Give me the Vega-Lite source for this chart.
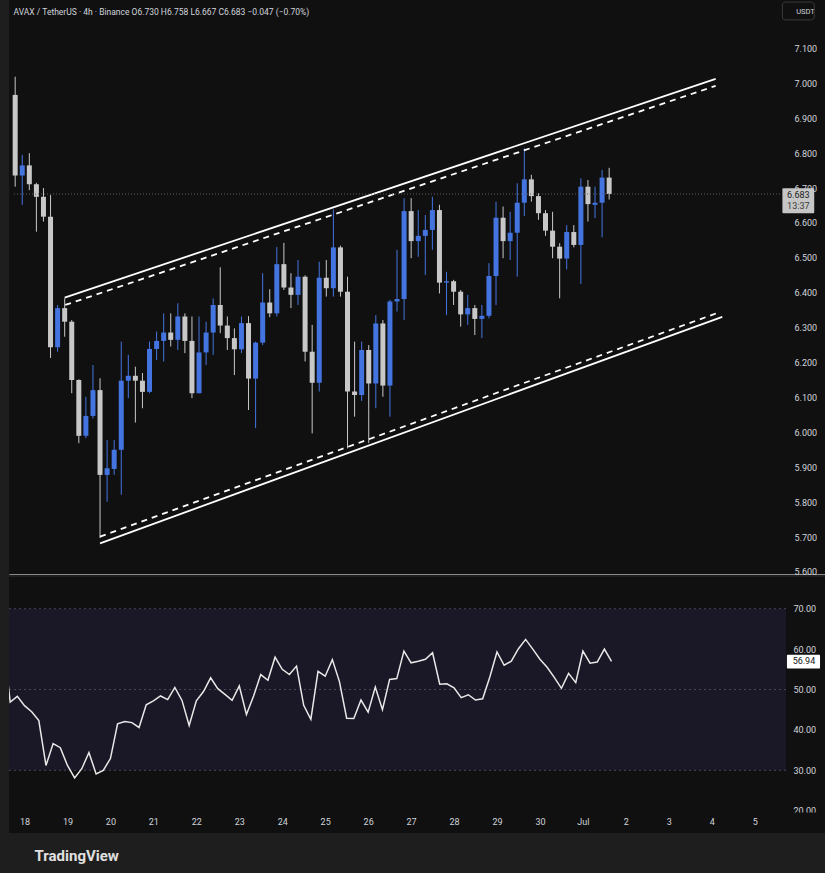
{
  "$schema": "https://vega.github.io/schema/vega-lite/v6.json",
  "background": "#1e1e1e",
  "padding": {"left": 8, "top": 0, "right": 0, "bottom": 14},
  "spacing": 0,
  "config": {
    "view": {"fill": "#101010", "stroke": null},
    "font": "Roboto, Liberation Sans, sans-serif",
    "axis": {"grid": false, "domain": false, "ticks": false, "labelColor": "#d1d4dc", "labelFontSize": 9, "labelFont": "Roboto, Liberation Sans, sans-serif", "labelOverlap": false, "labelSeparation": 0}
  },
  "datasets": {
    "candles": [
      {"t": "2025-06-17T12:00:00Z", "rsi": 62.5},
      {"t": "2025-06-17T16:00:00Z", "o": 6.967, "h": 7.019, "l": 6.704, "c": 6.736, "rsi": 46.9},
      {"t": "2025-06-17T20:00:00Z", "o": 6.736, "h": 6.795, "l": 6.652, "c": 6.765, "rsi": 48.3},
      {"t": "2025-06-18T00:00:00Z", "o": 6.765, "h": 6.800, "l": 6.694, "c": 6.711, "rsi": 46.0},
      {"t": "2025-06-18T04:00:00Z", "o": 6.711, "h": 6.715, "l": 6.575, "c": 6.675, "rsi": 44.5},
      {"t": "2025-06-18T08:00:00Z", "o": 6.675, "h": 6.700, "l": 6.604, "c": 6.618, "rsi": 42.3},
      {"t": "2025-06-18T12:00:00Z", "o": 6.618, "h": 6.680, "l": 6.213, "c": 6.244, "rsi": 31.2},
      {"t": "2025-06-18T16:00:00Z", "o": 6.244, "h": 6.365, "l": 6.231, "c": 6.356, "rsi": 36.6},
      {"t": "2025-06-18T20:00:00Z", "o": 6.356, "h": 6.384, "l": 6.274, "c": 6.317, "rsi": 35.6},
      {"t": "2025-06-19T00:00:00Z", "o": 6.317, "h": 6.322, "l": 6.112, "c": 6.150, "rsi": 31.2},
      {"t": "2025-06-19T04:00:00Z", "o": 6.150, "h": 6.152, "l": 5.969, "c": 5.990, "rsi": 28.1},
      {"t": "2025-06-19T08:00:00Z", "o": 5.990, "h": 6.102, "l": 5.983, "c": 6.047, "rsi": 30.4},
      {"t": "2025-06-19T12:00:00Z", "o": 6.047, "h": 6.193, "l": 6.040, "c": 6.121, "rsi": 34.4},
      {"t": "2025-06-19T16:00:00Z", "o": 6.121, "h": 6.155, "l": 5.697, "c": 5.878, "rsi": 29.1},
      {"t": "2025-06-19T20:00:00Z", "o": 5.878, "h": 5.978, "l": 5.801, "c": 5.897, "rsi": 30.0},
      {"t": "2025-06-20T00:00:00Z", "o": 5.895, "h": 5.978, "l": 5.878, "c": 5.950, "rsi": 32.9},
      {"t": "2025-06-20T04:00:00Z", "o": 5.950, "h": 6.260, "l": 5.821, "c": 6.148, "rsi": 41.5},
      {"t": "2025-06-20T08:00:00Z", "o": 6.148, "h": 6.222, "l": 6.098, "c": 6.162, "rsi": 42.1},
      {"t": "2025-06-20T12:00:00Z", "o": 6.162, "h": 6.188, "l": 6.028, "c": 6.148, "rsi": 41.8},
      {"t": "2025-06-20T16:00:00Z", "o": 6.148, "h": 6.170, "l": 6.069, "c": 6.116, "rsi": 40.6},
      {"t": "2025-06-20T20:00:00Z", "o": 6.116, "h": 6.260, "l": 6.112, "c": 6.239, "rsi": 46.2},
      {"t": "2025-06-21T00:00:00Z", "o": 6.239, "h": 6.289, "l": 6.207, "c": 6.262, "rsi": 47.2},
      {"t": "2025-06-21T04:00:00Z", "o": 6.262, "h": 6.341, "l": 6.203, "c": 6.286, "rsi": 48.4},
      {"t": "2025-06-21T08:00:00Z", "o": 6.286, "h": 6.341, "l": 6.246, "c": 6.265, "rsi": 47.5},
      {"t": "2025-06-21T12:00:00Z", "o": 6.265, "h": 6.370, "l": 6.236, "c": 6.332, "rsi": 50.5},
      {"t": "2025-06-21T16:00:00Z", "o": 6.332, "h": 6.341, "l": 6.227, "c": 6.262, "rsi": 47.3},
      {"t": "2025-06-21T20:00:00Z", "o": 6.262, "h": 6.332, "l": 6.098, "c": 6.112, "rsi": 41.1},
      {"t": "2025-06-22T00:00:00Z", "o": 6.112, "h": 6.332, "l": 6.112, "c": 6.229, "rsi": 47.2},
      {"t": "2025-06-22T04:00:00Z", "o": 6.229, "h": 6.317, "l": 6.193, "c": 6.286, "rsi": 49.5},
      {"t": "2025-06-22T08:00:00Z", "o": 6.286, "h": 6.384, "l": 6.222, "c": 6.365, "rsi": 52.9},
      {"t": "2025-06-22T12:00:00Z", "o": 6.365, "h": 6.473, "l": 6.284, "c": 6.306, "rsi": 50.2},
      {"t": "2025-06-22T16:00:00Z", "o": 6.306, "h": 6.332, "l": 6.236, "c": 6.270, "rsi": 48.8},
      {"t": "2025-06-22T20:00:00Z", "o": 6.270, "h": 6.298, "l": 6.164, "c": 6.238, "rsi": 47.3},
      {"t": "2025-06-23T00:00:00Z", "o": 6.238, "h": 6.332, "l": 6.227, "c": 6.313, "rsi": 50.9},
      {"t": "2025-06-23T04:00:00Z", "o": 6.313, "h": 6.333, "l": 6.064, "c": 6.154, "rsi": 43.8},
      {"t": "2025-06-23T08:00:00Z", "o": 6.154, "h": 6.260, "l": 6.012, "c": 6.257, "rsi": 48.4},
      {"t": "2025-06-23T12:00:00Z", "o": 6.257, "h": 6.456, "l": 6.250, "c": 6.372, "rsi": 53.7},
      {"t": "2025-06-23T16:00:00Z", "o": 6.372, "h": 6.410, "l": 6.330, "c": 6.341, "rsi": 52.3},
      {"t": "2025-06-23T20:00:00Z", "o": 6.341, "h": 6.531, "l": 6.332, "c": 6.482, "rsi": 58.0},
      {"t": "2025-06-24T00:00:00Z", "o": 6.482, "h": 6.543, "l": 6.408, "c": 6.415, "rsi": 55.0},
      {"t": "2025-06-24T04:00:00Z", "o": 6.415, "h": 6.456, "l": 6.356, "c": 6.394, "rsi": 53.7},
      {"t": "2025-06-24T08:00:00Z", "o": 6.394, "h": 6.494, "l": 6.365, "c": 6.446, "rsi": 55.8},
      {"t": "2025-06-24T12:00:00Z", "o": 6.446, "h": 6.450, "l": 6.203, "c": 6.231, "rsi": 46.1},
      {"t": "2025-06-24T16:00:00Z", "o": 6.231, "h": 6.308, "l": 5.997, "c": 6.142, "rsi": 42.6},
      {"t": "2025-06-24T20:00:00Z", "o": 6.142, "h": 6.489, "l": 6.117, "c": 6.443, "rsi": 54.5},
      {"t": "2025-06-25T00:00:00Z", "o": 6.443, "h": 6.494, "l": 6.389, "c": 6.413, "rsi": 53.3},
      {"t": "2025-06-25T04:00:00Z", "o": 6.413, "h": 6.639, "l": 6.389, "c": 6.530, "rsi": 57.4},
      {"t": "2025-06-25T08:00:00Z", "o": 6.530, "h": 6.535, "l": 6.389, "c": 6.403, "rsi": 51.9},
      {"t": "2025-06-25T12:00:00Z", "o": 6.403, "h": 6.446, "l": 5.954, "c": 6.117, "rsi": 42.9},
      {"t": "2025-06-25T16:00:00Z", "o": 6.117, "h": 6.260, "l": 6.045, "c": 6.107, "rsi": 42.8},
      {"t": "2025-06-25T20:00:00Z", "o": 6.107, "h": 6.260, "l": 6.090, "c": 6.236, "rsi": 47.4},
      {"t": "2025-06-26T00:00:00Z", "o": 6.236, "h": 6.250, "l": 5.969, "c": 6.140, "rsi": 44.4},
      {"t": "2025-06-26T04:00:00Z", "o": 6.140, "h": 6.336, "l": 6.069, "c": 6.312, "rsi": 50.6},
      {"t": "2025-06-26T08:00:00Z", "o": 6.312, "h": 6.322, "l": 6.102, "c": 6.134, "rsi": 45.0},
      {"t": "2025-06-26T12:00:00Z", "o": 6.134, "h": 6.380, "l": 6.045, "c": 6.375, "rsi": 52.5},
      {"t": "2025-06-26T16:00:00Z", "o": 6.375, "h": 6.523, "l": 6.346, "c": 6.382, "rsi": 52.7},
      {"t": "2025-06-26T20:00:00Z", "o": 6.382, "h": 6.671, "l": 6.322, "c": 6.634, "rsi": 59.5},
      {"t": "2025-06-27T00:00:00Z", "o": 6.634, "h": 6.671, "l": 6.499, "c": 6.548, "rsi": 56.6},
      {"t": "2025-06-27T04:00:00Z", "o": 6.548, "h": 6.637, "l": 6.503, "c": 6.563, "rsi": 57.0},
      {"t": "2025-06-27T08:00:00Z", "o": 6.563, "h": 6.623, "l": 6.451, "c": 6.580, "rsi": 57.5},
      {"t": "2025-06-27T12:00:00Z", "o": 6.580, "h": 6.675, "l": 6.523, "c": 6.637, "rsi": 59.1},
      {"t": "2025-06-27T16:00:00Z", "o": 6.637, "h": 6.652, "l": 6.398, "c": 6.429, "rsi": 51.3},
      {"t": "2025-06-27T20:00:00Z", "o": 6.429, "h": 6.460, "l": 6.336, "c": 6.433, "rsi": 51.4},
      {"t": "2025-06-28T00:00:00Z", "o": 6.433, "h": 6.437, "l": 6.365, "c": 6.403, "rsi": 50.4},
      {"t": "2025-06-28T04:00:00Z", "o": 6.403, "h": 6.408, "l": 6.303, "c": 6.338, "rsi": 48.0},
      {"t": "2025-06-28T08:00:00Z", "o": 6.338, "h": 6.394, "l": 6.308, "c": 6.356, "rsi": 48.7},
      {"t": "2025-06-28T12:00:00Z", "o": 6.356, "h": 6.365, "l": 6.279, "c": 6.325, "rsi": 47.4},
      {"t": "2025-06-28T16:00:00Z", "o": 6.325, "h": 6.365, "l": 6.270, "c": 6.334, "rsi": 47.7},
      {"t": "2025-06-28T20:00:00Z", "o": 6.334, "h": 6.485, "l": 6.327, "c": 6.448, "rsi": 53.1},
      {"t": "2025-06-29T00:00:00Z", "o": 6.448, "h": 6.661, "l": 6.365, "c": 6.615, "rsi": 59.3},
      {"t": "2025-06-29T04:00:00Z", "o": 6.615, "h": 6.647, "l": 6.499, "c": 6.548, "rsi": 56.0},
      {"t": "2025-06-29T08:00:00Z", "o": 6.548, "h": 6.632, "l": 6.494, "c": 6.572, "rsi": 57.0},
      {"t": "2025-06-29T12:00:00Z", "o": 6.572, "h": 6.714, "l": 6.446, "c": 6.658, "rsi": 60.1},
      {"t": "2025-06-29T16:00:00Z", "o": 6.658, "h": 6.814, "l": 6.620, "c": 6.725, "rsi": 62.4},
      {"t": "2025-06-29T20:00:00Z", "o": 6.725, "h": 6.738, "l": 6.661, "c": 6.677, "rsi": 60.0},
      {"t": "2025-06-30T00:00:00Z", "o": 6.677, "h": 6.685, "l": 6.609, "c": 6.628, "rsi": 57.5},
      {"t": "2025-06-30T04:00:00Z", "o": 6.628, "h": 6.637, "l": 6.563, "c": 6.578, "rsi": 55.5},
      {"t": "2025-06-30T08:00:00Z", "o": 6.578, "h": 6.632, "l": 6.499, "c": 6.532, "rsi": 53.0},
      {"t": "2025-06-30T12:00:00Z", "o": 6.532, "h": 6.542, "l": 6.384, "c": 6.498, "rsi": 50.3},
      {"t": "2025-06-30T16:00:00Z", "o": 6.498, "h": 6.594, "l": 6.467, "c": 6.574, "rsi": 54.0},
      {"t": "2025-06-30T20:00:00Z", "o": 6.574, "h": 6.594, "l": 6.530, "c": 6.537, "rsi": 51.7},
      {"t": "2025-07-01T00:00:00Z", "o": 6.537, "h": 6.728, "l": 6.425, "c": 6.704, "rsi": 59.5},
      {"t": "2025-07-01T04:00:00Z", "o": 6.704, "h": 6.723, "l": 6.604, "c": 6.654, "rsi": 56.5},
      {"t": "2025-07-01T08:00:00Z", "o": 6.652, "h": 6.704, "l": 6.614, "c": 6.658, "rsi": 56.8},
      {"t": "2025-07-01T12:00:00Z", "o": 6.658, "h": 6.752, "l": 6.559, "c": 6.730, "rsi": 60.0},
      {"t": "2025-07-01T16:00:00Z", "o": 6.730, "h": 6.758, "l": 6.667, "c": 6.683, "rsi": 56.94}
    ],
    "last": [{"t": "2025-07-01T16:00:00Z", "c": 6.683, "rsi": 56.94, "left": "13:37"}],
    "channel": [
      {"edge": "upper", "rail": "main", "t": "2025-06-18T20:00:00Z", "p": 6.386},
      {"edge": "upper", "rail": "main", "t": "2025-07-04T04:15:00Z", "p": 7.013},
      {"edge": "upper", "rail": "inner", "t": "2025-06-18T20:20:00Z", "p": 6.365},
      {"edge": "upper", "rail": "inner", "t": "2025-07-04T04:15:00Z", "p": 6.993},
      {"edge": "lower", "rail": "main", "t": "2025-06-19T16:00:00Z", "p": 5.682},
      {"edge": "lower", "rail": "main", "t": "2025-07-04T08:00:00Z", "p": 6.331},
      {"edge": "lower", "rail": "inner", "t": "2025-06-19T16:00:00Z", "p": 5.701},
      {"edge": "lower", "rail": "inner", "t": "2025-07-04T05:10:00Z", "p": 6.342}
    ],
    "levels": [{"level": 30}, {"level": 50}, {"level": 70}]
  },
  "vconcat": [
    {
      "width": 817,
      "height": 574,
      "layer": [
        {
          "data": {"name": "candles"},
          "mark": {"type": "rule", "strokeWidth": 1},
          "encoding": {
            "x": {
              "field": "t", "type": "temporal",
              "scale": {"type": "utc", "domain": [
                {"year": 2025, "month": 6, "date": 17, "hours": 15, "minutes": 20, "utc": true},
                {"year": 2025, "month": 7, "date": 6, "hours": 15, "minutes": 50, "utc": true}
              ]},
              "axis": {
                "orient": "bottom", "labels": false, "ticks": false, "domain": true, "domainColor": "#8a8a8a", "domainWidth": 1,
                "title": "USDT", "titleX": 796, "titleY": -563, "titleAlign": "center", "titleBaseline": "middle", "titleAnchor": null,
                "titleFontSize": 7.5, "titleFontWeight": "normal", "titleColor": "#d1d4dc", "titleFont": "Roboto, Liberation Sans, sans-serif"
              }
            },
            "y": {
              "field": "l", "type": "quantitative",
              "scale": {"domain": [5.594, 7.239], "nice": false, "zero": false},
              "axis": {
                "orient": "right", "offset": -32, "tickCount": 30,
                "values": [5.6, 5.7, 5.8, 5.9, 6, 6.1, 6.2, 6.3, 6.4, 6.5, 6.6, 6.7, 6.8, 6.9, 7, 7.1],
                "format": ".3f", "labelPadding": 0, "tickSize": 0, "labelAlign": "left", "labelBaseline": "middle", "labelOverlap": false,
                "title": "AVAX / TetherUS · 4h · Binance  O6.730  H6.758  L6.667  C6.683  −0.047 (−0.70%)",
                "titleAngle": 0, "titleX": -781, "titleY": 14, "titleAlign": "left", "titleBaseline": "alphabetic", "titleAnchor": null,
                "titleFontSize": 8.5, "titleFontWeight": "normal", "titleColor": "#d1d4dc", "titleFont": "Roboto, Liberation Sans, sans-serif"
              }
            },
            "y2": {"field": "h"},
            "color": {"condition": {"test": "datum.c > datum.o", "value": "#4474e0"}, "value": "#c8c8c8"}
          }
        },
        {
          "data": {"name": "candles"},
          "mark": {"type": "bar", "width": 5},
          "encoding": {
            "x": {"field": "t", "type": "temporal"},
            "y": {"field": "o", "type": "quantitative"},
            "y2": {"field": "c"},
            "color": {"condition": {"test": "datum.c > datum.o", "value": "#4474e0"}, "value": "#c8c8c8"}
          }
        },
        {
          "data": {"name": "channel"},
          "transform": [{"filter": "datum.rail == 'main'"}],
          "mark": {"type": "line", "color": "#ffffff", "strokeWidth": 1.8},
          "encoding": {
            "x": {"field": "t", "type": "temporal"},
            "y": {"field": "p", "type": "quantitative"},
            "detail": {"field": "edge"}
          }
        },
        {
          "data": {"name": "channel"},
          "transform": [{"filter": "datum.rail == 'inner'"}],
          "mark": {"type": "line", "color": "#ffffff", "strokeWidth": 1.8, "strokeDash": [6, 5]},
          "encoding": {
            "x": {"field": "t", "type": "temporal"},
            "y": {"field": "p", "type": "quantitative"},
            "detail": {"field": "edge"}
          }
        },
        {
          "data": {"name": "last"},
          "mark": {"type": "rule", "color": "#5c5c5c", "strokeWidth": 1, "strokeDash": [1, 2]},
          "encoding": {
            "x": {"datum": {"year": 2025, "month": 6, "date": 17, "hours": 15, "minutes": 20, "utc": true}, "type": "temporal"},
            "x2": {"datum": {"year": 2025, "month": 7, "date": 5, "hours": 18, "utc": true}},
            "y": {"field": "c", "type": "quantitative"}
          }
        },
        {
          "data": {"name": "last"},
          "mark": {"type": "rect", "fill": null, "stroke": "#3a3a3a", "strokeWidth": 1, "cornerRadius": 3},
          "encoding": {
            "x": {"datum": {"year": 2025, "month": 7, "date": 5, "hours": 18, "utc": true}, "type": "temporal"},
            "x2": {"datum": {"year": 2025, "month": 7, "date": 6, "hours": 12, "utc": true}},
            "y": {"datum": 7.233, "type": "quantitative"},
            "y2": {"datum": 7.182}
          }
        },
        {
          "data": {"name": "last"},
          "mark": {"type": "rect", "color": "#c6c6c6", "cornerRadius": 1},
          "encoding": {
            "x": {"datum": {"year": 2025, "month": 7, "date": 5, "hours": 18, "utc": true}, "type": "temporal"},
            "x2": {"datum": {"year": 2025, "month": 7, "date": 6, "hours": 12, "utc": true}},
            "y": {"datum": 6.6994, "type": "quantitative"},
            "y2": {"datum": 6.6278}
          }
        },
        {
          "data": {"name": "last"},
          "mark": {"type": "text", "color": "#1a1a1a", "fontSize": 9, "align": "center", "baseline": "middle"},
          "encoding": {
            "x": {"datum": {"year": 2025, "month": 7, "date": 6, "hours": 3, "utc": true}, "type": "temporal"},
            "y": {"datum": 6.680, "type": "quantitative"},
            "text": {"field": "c", "type": "quantitative", "format": ".3f"}
          }
        },
        {
          "data": {"name": "last"},
          "mark": {"type": "text", "color": "#3a3a3a", "fontSize": 9, "align": "center", "baseline": "middle"},
          "encoding": {
            "x": {"datum": {"year": 2025, "month": 7, "date": 6, "hours": 3, "utc": true}, "type": "temporal"},
            "y": {"datum": 6.649, "type": "quantitative"},
            "text": {"field": "left", "type": "nominal"}
          }
        }
      ]
    },
    {
      "width": 817,
      "height": 256,
      "layer": [
        {
          "data": {"name": "last"},
          "mark": {"type": "rect", "color": "#1a1726"},
          "encoding": {
            "x": {
              "datum": {"year": 2025, "month": 6, "date": 17, "hours": 15, "minutes": 20, "utc": true}, "type": "temporal",
              "scale": {"type": "utc", "domain": [
                {"year": 2025, "month": 6, "date": 17, "hours": 15, "minutes": 20, "utc": true},
                {"year": 2025, "month": 7, "date": 6, "hours": 15, "minutes": 50, "utc": true}
              ]},
              "axis": {
                "orient": "bottom", "offset": -20, "labelPadding": 4, "labelFlush": false, "labelOverlap": false, "zindex": 1, "tickCount": 30,
                "values": [
                  {"year": 2025, "month": 6, "date": 18, "utc": true},
                  {"year": 2025, "month": 6, "date": 19, "utc": true},
                  {"year": 2025, "month": 6, "date": 20, "utc": true},
                  {"year": 2025, "month": 6, "date": 21, "utc": true},
                  {"year": 2025, "month": 6, "date": 22, "utc": true},
                  {"year": 2025, "month": 6, "date": 23, "utc": true},
                  {"year": 2025, "month": 6, "date": 24, "utc": true},
                  {"year": 2025, "month": 6, "date": 25, "utc": true},
                  {"year": 2025, "month": 6, "date": 26, "utc": true},
                  {"year": 2025, "month": 6, "date": 27, "utc": true},
                  {"year": 2025, "month": 6, "date": 28, "utc": true},
                  {"year": 2025, "month": 6, "date": 29, "utc": true},
                  {"year": 2025, "month": 6, "date": 30, "utc": true},
                  {"year": 2025, "month": 7, "date": 1, "utc": true},
                  {"year": 2025, "month": 7, "date": 2, "utc": true},
                  {"year": 2025, "month": 7, "date": 3, "utc": true},
                  {"year": 2025, "month": 7, "date": 4, "utc": true},
                  {"year": 2025, "month": 7, "date": 5, "utc": true}
                ],
                "labelExpr": "utcdate(datum.value) == 1 ? 'Jul' : '' + utcdate(datum.value)",
                "title": "TradingView", "titleX": 25, "titleY": 50, "titleAlign": "left", "titleBaseline": "bottom", "titleAnchor": null,
                "titleFontSize": 15, "titleFontWeight": "bold", "titleColor": "#e0e0e0", "titleFont": "Roboto, Liberation Sans, sans-serif"
              }
            },
            "x2": {"datum": {"year": 2025, "month": 7, "date": 5, "hours": 17, "minutes": 30, "utc": true}},
            "y": {
              "datum": 30, "type": "quantitative",
              "scale": {"domain": [14.48, 77.85], "nice": false, "zero": false},
              "axis": {
                "orient": "right", "offset": -33, "values": [20, 30, 40, 50, 60, 70], "format": ".2f", "tickCount": 12,
                "labelPadding": 0, "tickSize": 0, "labelAlign": "left", "labelBaseline": "middle", "labelOverlap": false, "title": null, "zindex": 0
              }
            },
            "y2": {"datum": 70}
          }
        },
        {
          "data": {"name": "levels"},
          "mark": {"type": "rule", "color": "#4a4656", "strokeWidth": 1, "strokeDash": [2, 3]},
          "encoding": {
            "x": {"datum": {"year": 2025, "month": 6, "date": 17, "hours": 15, "minutes": 20, "utc": true}, "type": "temporal"},
            "x2": {"datum": {"year": 2025, "month": 7, "date": 5, "hours": 17, "minutes": 30, "utc": true}},
            "y": {"field": "level", "type": "quantitative"}
          }
        },
        {
          "data": {"name": "candles"},
          "mark": {"type": "line", "color": "#e8e8e8", "strokeWidth": 1.5, "clip": true},
          "encoding": {
            "x": {"field": "t", "type": "temporal"},
            "y": {"field": "rsi", "type": "quantitative"}
          }
        },
        {
          "data": {"name": "last"},
          "mark": {"type": "rect", "color": "#101010"},
          "encoding": {
            "x": {"datum": {"year": 2025, "month": 6, "date": 17, "hours": 15, "minutes": 20, "utc": true}, "type": "temporal"},
            "x2": {"datum": {"year": 2025, "month": 7, "date": 6, "hours": 15, "minutes": 50, "utc": true}},
            "y": {"datum": 14.48, "type": "quantitative"},
            "y2": {"datum": 19.55}
          }
        },
        {
          "data": {"name": "last"},
          "mark": {"type": "rect", "color": "#ffffff", "cornerRadius": 1},
          "encoding": {
            "x": {"datum": {"year": 2025, "month": 7, "date": 5, "hours": 18, "utc": true}, "type": "temporal"},
            "x2": {"datum": {"year": 2025, "month": 7, "date": 6, "hours": 12, "minutes": 30, "utc": true}},
            "y": {"datum": 58.6, "type": "quantitative"},
            "y2": {"datum": 55.2}
          }
        },
        {
          "data": {"name": "last"},
          "mark": {"type": "text", "color": "#131313", "fontSize": 9, "align": "center", "baseline": "middle"},
          "encoding": {
            "x": {"datum": {"year": 2025, "month": 7, "date": 6, "hours": 3, "minutes": 30, "utc": true}, "type": "temporal"},
            "y": {"field": "rsi", "type": "quantitative"},
            "text": {"field": "rsi", "type": "quantitative", "format": ".2f"}
          }
        }
      ]
    }
  ]
}
